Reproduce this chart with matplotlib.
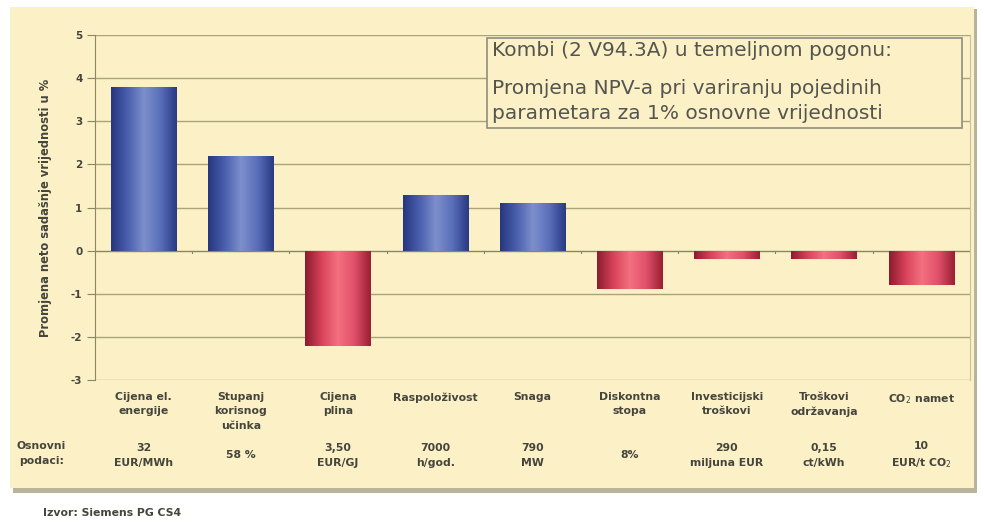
import numpy as np
import matplotlib.pyplot as plt
from matplotlib.patches import Rectangle
from matplotlib.colors import LinearSegmentedColormap

plt.rcParams['font.family'] = ['DejaVu Sans']

categories = ["Cijena el.\nenergije", "Stupanj\nkorisnog\nučinka", "Cijena\nplina",
              "Raspoloživost", "Snaga", "Diskontna\nstopa", "Investicijski\ntroškovi",
              "Troškovi\nodržavanja", "CO$_2$ namet"]
values = [3.8, 2.2, -2.2, 1.3, 1.1, -0.9, -0.2, -0.2, -0.8]
base_data = ["32\nEUR/MWh", "58 %", "3,50\nEUR/GJ", "7000\nh/god.", "790\nMW",
             "8%", "290\nmiljuna EUR", "0,15\nct/kWh", "10\nEUR/t CO$_2$"]
yticks = [-3, -2, -1, 0, 1, 2, 3, 4, 5]

bg = "#fbf0c6"
txt = "#45453c"
blue_cmap = LinearSegmentedColormap.from_list(
    "b", ["#26377e", "#4a5fae", "#7d8fcb", "#5a6fbb", "#2a3a84"])
red_cmap = LinearSegmentedColormap.from_list(
    "r", ["#8e1c30", "#d8435a", "#f47080", "#e0506a", "#9a2034"])

fig = plt.figure(figsize=(9.84, 5.23), dpi=100)
fig.patch.set_facecolor("white")

# yellow panel with shadow, on a background axes
bgax = fig.add_axes([0, 0, 1, 1], zorder=-1)
bgax.set_xlim(0, 1)
bgax.set_ylim(0, 1)
bgax.axis("off")
bgax.add_patch(Rectangle((0.013, 0.058), 0.980, 0.925, facecolor="#b9b39a", edgecolor="none"))
bgax.add_patch(Rectangle((0.010, 0.066), 0.980, 0.920, facecolor=bg, edgecolor="none"))

ax = fig.add_axes([0.0965, 0.2734, 0.889, 0.6597], zorder=1)
ax.set_facecolor("none")
x = np.arange(len(values))
width = 0.67

grad = np.linspace(0, 1, 100).reshape(1, -1)
bars = ax.bar(x, values, width=width, color="none", edgecolor="none", zorder=3)
for b, v in zip(bars, values):
    cm = blue_cmap if v > 0 else red_cmap
    x0, y0 = b.get_x(), b.get_y()
    im = ax.imshow(grad, cmap=cm, aspect="auto", zorder=3,
                   extent=[x0, x0 + b.get_width(), y0, y0 + b.get_height()])
    im.set_clip_path(b)
ax.set_xlim(-0.5, len(values) - 0.5)
ax.set_ylim(-3, 5)

for t in yticks:
    ax.axhline(t, color="#aaa47a" if t != 0 else "#8c875e", lw=1.0, zorder=1)
ax.set_yticks(yticks)
ax.set_yticklabels([str(t) for t in yticks], fontsize=7.5, fontweight="bold", color=txt)
ax.tick_params(axis="y", length=6, color="#8c875e", pad=3)
ax.set_xticks([])
for s in ["top", "bottom"]:
    ax.spines[s].set_visible(False)
ax.spines["left"].set_color("#8c875e")
ax.spines["right"].set_color("#c8c2a0")

# small ticks on zero line between categories
for xi in x[:-1] + 0.5:
    ax.plot([xi, xi], [0, -0.06], color="#8c875e", lw=0.8, zorder=2)

ax.set_ylabel("Promjena neto sadašnje vrijednosti u %", fontsize=8.3, fontweight="bold",
              color=txt, labelpad=14)

for xi, c in zip(x, categories):
    ax.text(xi, -3.28, c, ha="center", va="top", fontsize=7.8, fontweight="bold",
            color=txt, linespacing=1.55, clip_on=False)
for xi, d in zip(x, base_data):
    ax.text(xi, -4.75, d, ha="center", va="center", fontsize=7.8, fontweight="bold",
            color=txt, linespacing=1.55, clip_on=False)
ax.text(-1.05, -4.7, "Osnovni\npodaci:", ha="center", va="center", fontsize=7.8,
        fontweight="bold", color=txt, linespacing=1.55, clip_on=False)

# caption box
ax.add_patch(Rectangle((3.53, 2.84), 4.89, 2.09, facecolor=bg, edgecolor="#8e8e7e",
                       lw=1.2, zorder=4))
ax.text(3.58, 4.65, "Kombi (2 V94.3A) u temeljnom pogonu:", fontsize=14.5,
        color="#555550", va="center", zorder=5)
ax.text(3.58, 3.77, "Promjena NPV-a pri variranju pojedinih", fontsize=14.5,
        color="#555550", va="center", zorder=5)
ax.text(3.58, 3.17, "parametara za 1% osnovne vrijednosti", fontsize=14.5,
        color="#555550", va="center", zorder=5)

fig.text(0.044, 0.013, "Izvor: Siemens PG CS4", fontsize=7.8, fontweight="bold", color=txt)

fig.savefig("out.png", dpi=100, facecolor=fig.get_facecolor())
